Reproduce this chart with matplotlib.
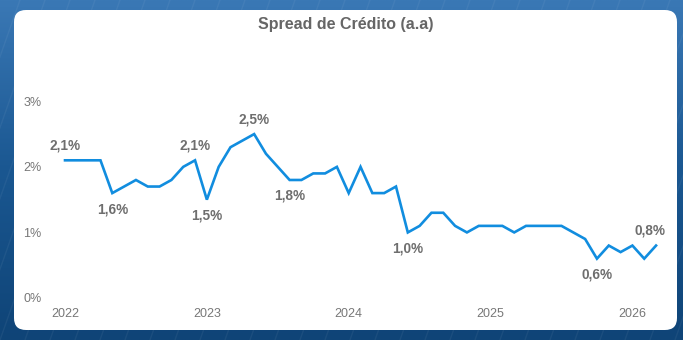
import matplotlib
matplotlib.use("Agg")
from matplotlib import pyplot as plt
from matplotlib.patches import FancyBboxPatch
import numpy as np

plt.rcParams['font.family'] = ['Liberation Sans', 'DejaVu Sans']

# monthly spread, Jan 2022 .. Mar 2026 (% a.a.)
spread = [2.1, 2.1, 2.1, 2.1, 1.6, 1.7, 1.8, 1.7, 1.7, 1.8, 2.0, 2.1,
          1.5, 2.0, 2.3, 2.4, 2.5, 2.2, 2.0, 1.8, 1.8, 1.9, 1.9, 2.0,
          1.6, 2.0, 1.6, 1.6, 1.7, 1.0, 1.1, 1.3, 1.3, 1.1, 1.0, 1.1,
          1.1, 1.1, 1.0, 1.1, 1.1, 1.1, 1.1, 1.0, 0.9, 0.6, 0.8, 0.7,
          0.8, 0.6, 0.8]
years = ['2022', '2023', '2024', '2025', '2026']
year_pos = [0, 12, 24, 36, 48]
y_ticks = [0, 1, 2, 3]
y_labels = ['0%', '1%', '2%', '3%']
# labelled points: (month index, above?)
labels = [(0, True), (4, False), (11, True), (12, False), (16, True),
          (19, False), (29, False), (45, False), (50, True)]

W, H = 683, 340
fig = plt.figure(figsize=(W / 100, H / 100), dpi=100)

# background (blue photo stand-in) + white card
bg = fig.add_axes([0, 0, 1, 1])
grad = np.linspace(0, 1, 200).reshape(-1, 1) * np.ones((1, 10))
cmap = matplotlib.colors.LinearSegmentedColormap.from_list(
    'bg', ['#3a78b5', '#1a5791', '#0f4477'])
bg.imshow(grad, cmap=cmap, aspect='auto', extent=[0, W, H, 0])
for k in range(-10, 40):
    bg.plot([k * 25, k * 25 + 120], [H, 0], color='white', alpha=0.05, lw=1)
card = FancyBboxPatch((14, 10), 663, 320,
                      boxstyle='round,pad=0,rounding_size=12',
                      fc='white', ec='none')
bg.add_patch(card)
bg.set_xlim(0, W)
bg.set_ylim(H, 0)
bg.axis('off')

fig.text(346 / W, 1 - 25 / H, 'Spread de Crédito (a.a)', ha='center', va='center',
         fontsize=11.5, fontweight='bold', color='#666666')

ax = fig.add_axes([50 / W, 42 / H, 620 / W, 238 / H])
ax.patch.set_alpha(0)
x = np.arange(len(spread))
ax.plot(x, spread, color='#118ddf', lw=1.9, solid_joinstyle='miter')

for i, up in labels:
    txt = '{:.1f}%'.format(spread[i]).replace('.', ',')
    dx = -4 if i == len(spread) - 1 else 0
    ax.annotate(txt, (x[i], spread[i]), xytext=(dx, 10.5 if up else -11.5),
                textcoords='offset points', ha='center', va='center',
                fontsize=9.8, fontweight='bold', color='#6e6e6e')

ax.set_xlim(-1.27, 51.18)
ax.set_ylim(0, 3.63)
ax.set_xticks(year_pos)
ax.set_xticklabels(years)
ax.set_yticks(y_ticks)
ax.set_yticklabels(y_labels)
ax.tick_params(length=0, labelsize=9, labelcolor='#777777')
ax.tick_params(axis='x', pad=7)
ax.tick_params(axis='y', pad=6)
for s in ax.spines.values():
    s.set_visible(False)

fig.savefig('out.png', dpi=100)
